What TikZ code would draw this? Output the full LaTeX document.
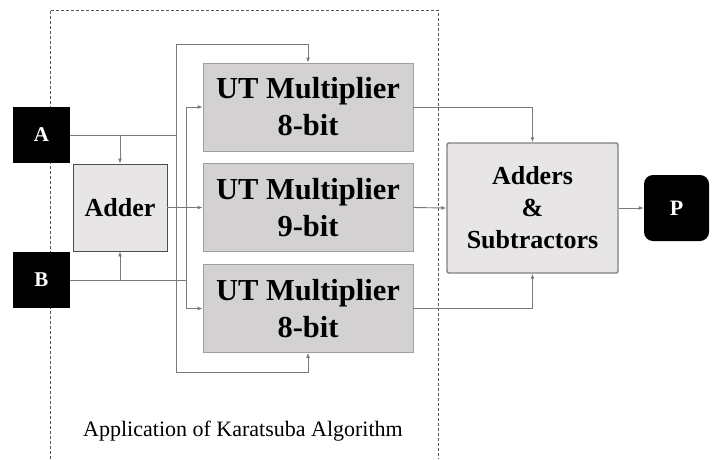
\documentclass[tikz,border=0pt]{standalone}
\usepackage{fontspec}
\setmainfont{LiberationSerif}[Extension=.ttf, UprightFont=*-Regular, BoldFont=*-Bold, ItalicFont=*-Italic, BoldItalicFont=*-BoldItalic]
\usetikzlibrary{arrows.meta}
\definecolor{multfill}{HTML}{D3D1D2}
\definecolor{addfill}{HTML}{E7E5E6}
\definecolor{wire}{HTML}{7A7A7A}
\definecolor{dashgray}{HTML}{555555}
\begin{document}
\begin{tikzpicture}[x=1pt,y=-1pt,
  wirestyle/.style={draw=wire, line width=0.9pt},
  arr/.style={wirestyle, -{Latex[length=5pt,width=4pt]}},
  inbox/.style={fill=black, text=white, inner sep=0pt,
    font=\bfseries\fontsize{21}{24}\selectfont, minimum width=57pt, minimum height=56pt},
  multbox/.style={fill=multfill, draw=gray!75, line width=0.8pt, align=center, inner sep=0pt,
    minimum width=210pt, minimum height=88pt, font=\bfseries\fontsize{30.5}{37}\selectfont},
  addbox/.style={fill=addfill, draw=black!70, line width=0.9pt, align=center, inner sep=0pt,
    font=\bfseries\fontsize{26}{32}\selectfont}
]
\useasboundingbox (0,0) rectangle (718,459);
% dashed region
\draw[dashgray, line width=0.9pt, dash pattern=on 3pt off 2pt] (50,459) -- (50,10) -- (438,10) -- (438,459);

% nodes
\node[inbox] (A) at (41.5,135) {A};
\node[inbox] (B) at (41.5,280) {B};
\node[addbox, minimum width=94pt, minimum height=87pt] (Adder) at (120,207.5) {Adder};
\node[multbox] (M1) at (308,107) {UT Multiplier\\8-bit};
\node[multbox] (M2) at (308,207.5) {UT Multiplier\\9-bit};
\node[multbox] (M3) at (308,308.5) {UT Multiplier\\8-bit};
\node[addbox, draw=black!50, line width=1.4pt, rounded corners=2pt, minimum width=171pt, minimum height=130pt] (AS) at (532.5,208) {Adders\\\&\\Subtractors};
\node[inbox, rounded corners=9pt, minimum width=65pt, minimum height=66pt, font=\bfseries\fontsize{22}{26}\selectfont] (P) at (676.5,208) {P};
\node[font=\fontsize{22}{26}\selectfont, anchor=base] (lab) at (243,436) {Application of Karatsuba Algorithm};

% junction coordinates
\coordinate (aj) at (176,135);
\coordinate (atop) at (176,44);
\coordinate (abot) at (176,372);
\coordinate (bj) at (186,280);

% A wires
\draw[wirestyle] (A.east) -- (aj);
\draw[wirestyle] (atop) -- (abot);
\draw[arr] (Adder.north |- A.east) -- (Adder.north);
\draw[arr] (atop) -| (M1.north);
\draw[arr] (abot) -| (M3.south);

% B wires
\draw[wirestyle] (B.east) -- (bj);
\draw[arr] (Adder.south |- B.east) -- (Adder.south);
\draw[arr] (bj) |- (M1.west);
\draw[arr] (bj) |- (M3.west);

% adder to middle multiplier
\draw[arr] (Adder.east) -- (M2.west);

% multipliers to adders & subtractors
\draw[arr] (M1.east) -| (AS.north);
\draw[arr] (M2.east) -- (AS.west);
\draw[arr] (M3.east) -| (AS.south);
\draw[arr] (AS.east) -- (P.west);
\end{tikzpicture}
\end{document}
